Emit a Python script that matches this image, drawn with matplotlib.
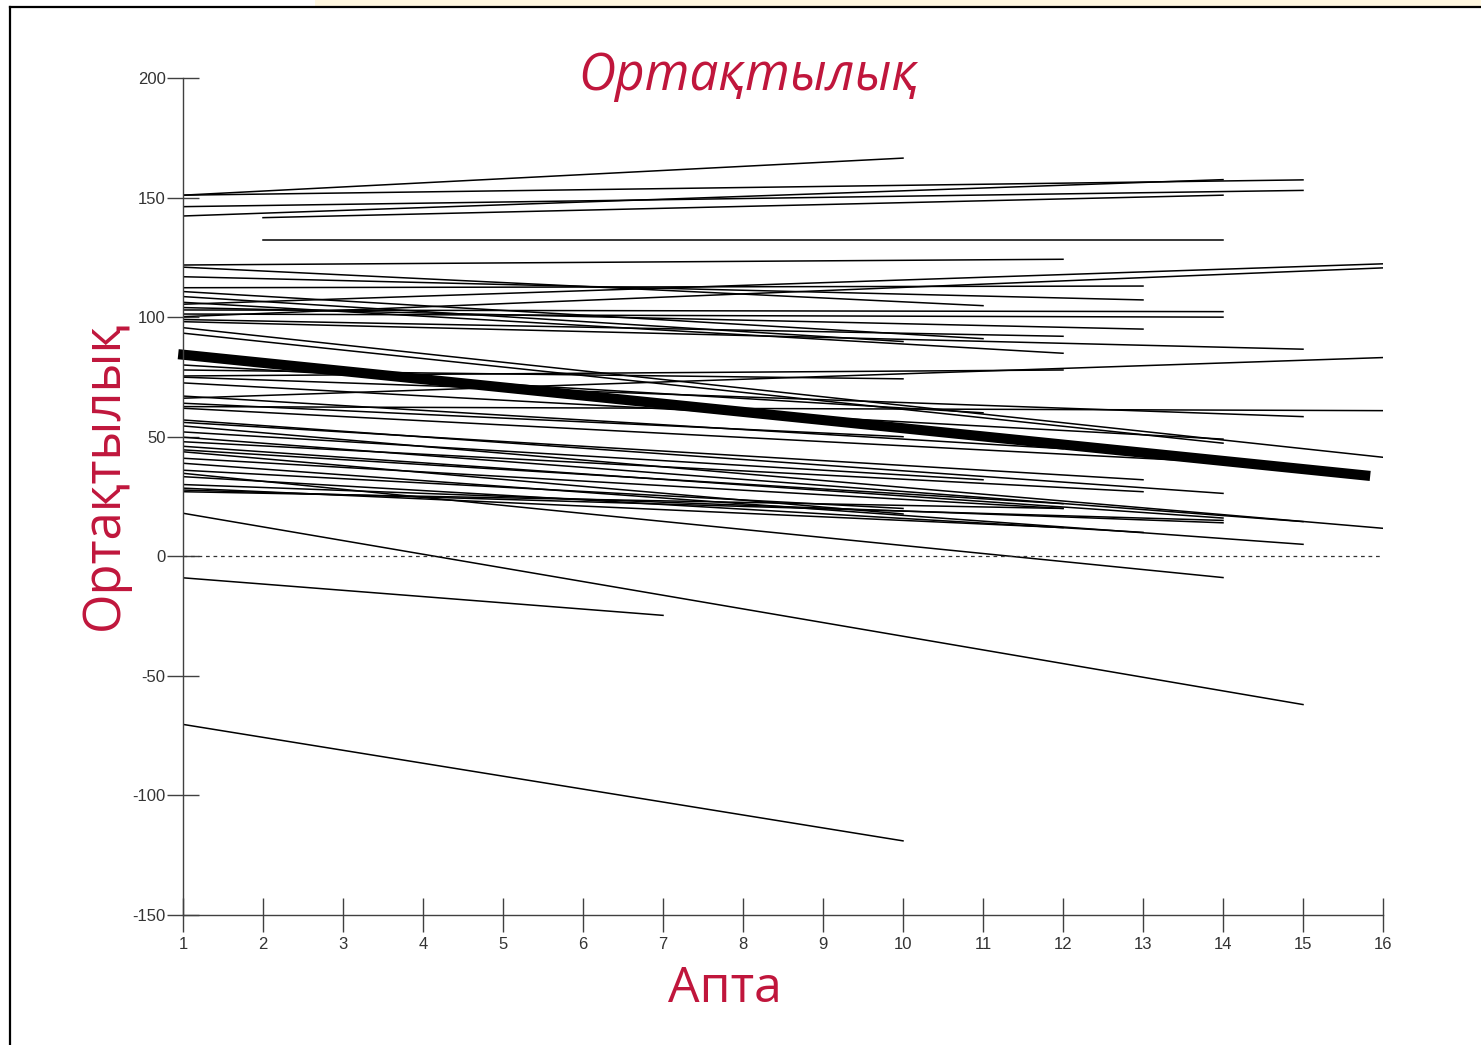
import matplotlib
matplotlib.use('Agg')
import matplotlib.pyplot as plt
from matplotlib.lines import Line2D
from matplotlib.patches import Rectangle

plt.rcParams['axes.unicode_minus'] = False

# Окушылардың жекелеген сызықтары: басталу аптасы, аяқталу аптасы, бастапқы және соңғы мәндер
start_week = [1, 1, 1, 1, 2, 2,
              1, 1, 1, 1, 1, 1, 1, 1, 1, 1, 1, 1, 1, 1,
              1, 1, 1, 1, 1, 1, 1, 1, 1, 1, 1, 1, 1, 1, 1, 1, 1, 1, 1,
              1,
              1, 1, 1, 1, 1, 1, 1, 1, 1, 1, 1, 1, 1]
end_week = [10, 15, 15, 14, 14, 14,
            12, 11, 13, 13, 11, 10, 12, 16, 14, 14, 16, 15, 16, 14,
            10, 12, 15, 16, 16, 15, 14, 16, 15, 13, 12, 10, 15, 14, 13, 14, 12, 7, 15,
            10,
            14, 12, 10, 13, 11, 14, 12, 10, 14, 12, 13, 12, 11]
start_val = [151, 151, 146.2, 142.3, 141.6, 132.3,
             121.8, 120.9, 116.9, 112.3, 110.7, 108.6, 106.2, 105.4, 103, 101.3, 100.2, 98.1, 95.6, 93.3,
             77.9, 75.4, 74.9, 66.1, 62.6, 61.9, 57, 54.5, 49.8, 47.9, 44.5, 43.7, 38.9, 34.7, 33.3, 27.7, 27, -9, 18,
             -70.3,
             72.5, 67, 64, 56, 52, 46, 41, 36, 30, 28.5, 104, 99, 80]
end_val = [166.5, 157.4, 153, 157.5, 151, 132.3,
           124.2, 104.8, 107.2, 113, 91, 89.8, 84.9, 122.3, 102.3, 100, 120.6, 86.6, 41.4, 47.3,
           74.2, 77.9, 58.4, 83.1, 60.9, 37.5, 26.3, 11.7, 14.5, 27, 22, 17.7, 5.0, -8.9, 10, 15, 20, -24.7, -62,
           -119,
           49, 45, 50, 32, 32, 16, 20, 20, 14, 12, 95, 92, 60]

# Орташа тренд сызығы
mean_weeks = [0.94, 15.84]
mean_vals = [84.5, 33.6]

x_ticks = list(range(1, 17))
y_ticks = [-150, -100, -50, 0, 50, 100, 150, 200]

red = '#C0163C'

fig = plt.figure(figsize=(14.81, 10.45), dpi=100)
ax = fig.add_axes([183 / 1481, 1 - 915 / 1045, 1200 / 1481, 837 / 1045])

for i in range(len(start_week)):
    ax.plot([start_week[i], end_week[i]], [start_val[i], end_val[i]], color='black', lw=1.1)

ax.plot(mean_weeks, mean_vals, color='black', lw=7.3, solid_capstyle='butt', clip_on=False)
ax.plot([1, 16], [0, 0], color='#333333', lw=0.9, linestyle=(0, (3, 3)))

ax.set_xlim(1, 16)
ax.set_ylim(-150, 200)
ax.set_xticks(x_ticks)
ax.set_yticks(y_ticks)
for s in ['top', 'right']:
    ax.spines[s].set_visible(False)
for s in ['left', 'bottom']:
    ax.spines[s].set_color('#404040')
    ax.spines[s].set_linewidth(1.0)
ax.tick_params(axis='y', direction='inout', length=23, width=1.0, color='#404040', pad=1,
               labelsize=12, labelcolor='#333333')
ax.tick_params(axis='x', direction='inout', length=25, width=1.0, color='#404040', pad=3,
               labelsize=12, labelcolor='#333333')
for lab in ax.get_xticklabels() + ax.get_yticklabels():
    lab.set_family(['Liberation Sans', 'DejaVu Sans'])
    lab.set_stretch('condensed')

fig.text(748 / 1481, 1 - 90 / 1045, 'Ортақтылық', color=red, fontsize=37, style='italic',
         family=['Open Sans', 'DejaVu Sans'], ha='center', va='baseline')
fig.text(118 / 1481, 1 - 475 / 1045, 'Ортақтылық', color=red, fontsize=36.5, rotation=90,
         rotation_mode='anchor', family=['Open Sans', 'DejaVu Sans'], ha='center', va='baseline')
fig.text(725 / 1481, 1 - 1002 / 1045, 'Апта', color=red, fontsize=36,
         family=['Open Sans', 'DejaVu Sans'], ha='center', va='baseline')

# слайд жақтауы
fig.add_artist(Rectangle((315 / 1481, 1 - 7 / 1045), 1, 7 / 1045, transform=fig.transFigure,
                         color='#FFF7E0', lw=0))
fig.add_artist(Line2D([10 / 1481, 1], [1 - 7 / 1045, 1 - 7 / 1045], transform=fig.transFigure,
                      color='black', lw=1.6))
fig.add_artist(Line2D([10 / 1481, 10 / 1481], [0, 1 - 7 / 1045], transform=fig.transFigure,
                      color='black', lw=1.6))

fig.savefig('out.png', dpi=100)
